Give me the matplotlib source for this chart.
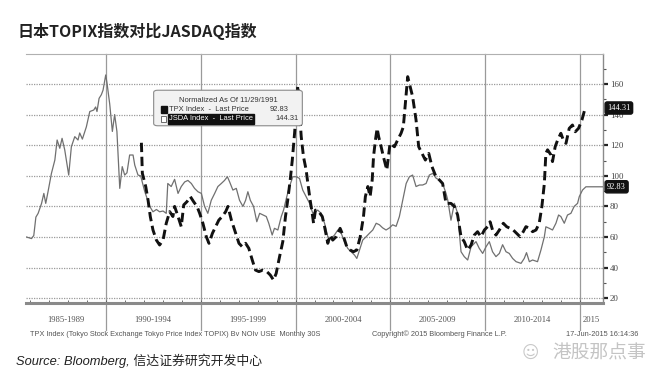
import matplotlib
matplotlib.use("Agg")
import matplotlib.pyplot as plt
from matplotlib.patches import FancyBboxPatch, Rectangle
import numpy as np

plt.rcParams['font.family'] = ['Liberation Sans', 'Noto Sans CJK SC', 'DejaVu Sans']

# ---- data (decimal years, normalized index level) ----
tpx_years = [1985.83, 1986.09, 1986.21, 1986.32, 1986.44, 1986.62, 1986.74, 1986.84, 1986.96,
             1987.14, 1987.32, 1987.44, 1987.58, 1987.70, 1987.84, 1988.05, 1988.19, 1988.37,
             1988.54, 1988.63, 1988.77, 1988.98, 1989.16, 1989.37, 1989.47, 1989.54, 1989.65,
             1989.77, 1989.86, 1990.00, 1990.07, 1990.21, 1990.35, 1990.47, 1990.59, 1990.74,
             1990.87, 1991.00, 1991.12, 1991.26, 1991.44, 1991.53, 1991.70, 1991.84, 1992.05,
             1992.32, 1992.49, 1992.67, 1992.84, 1993.02, 1993.19, 1993.27, 1993.45, 1993.63,
             1993.81, 1993.98, 1994.16, 1994.33, 1994.51, 1994.68, 1994.86, 1995.04, 1995.21,
             1995.38, 1995.56, 1995.74, 1995.91, 1996.09, 1996.26, 1996.41, 1996.53, 1996.70,
             1996.88, 1997.05, 1997.23, 1997.37, 1997.49, 1997.62, 1997.79, 1997.96, 1998.11,
             1998.28, 1998.46, 1998.59, 1998.77, 1998.89, 1999.07, 1999.25, 1999.37, 1999.54,
             1999.68, 1999.86, 2000.04, 2000.21, 2000.38, 2000.56, 2000.74, 2000.91, 2001.17,
             2001.35, 2001.53, 2001.70, 2001.88, 2002.05, 2002.23, 2002.41, 2002.58, 2002.75,
             2002.93, 2003.11, 2003.23, 2003.37, 2003.54, 2003.72, 2003.89, 2004.07, 2004.25,
             2004.42, 2004.59, 2004.77, 2004.95, 2005.12, 2005.30, 2005.47, 2005.65, 2005.83,
             2006.00, 2006.17, 2006.35, 2006.53, 2006.70, 2006.88, 2007.05, 2007.23, 2007.41,
             2007.58, 2007.75, 2007.93, 2008.02, 2008.19, 2008.37, 2008.54, 2008.72, 2008.89,
             2009.07, 2009.25, 2009.51, 2009.68, 2009.86, 2010.04, 2010.21, 2010.38, 2010.56,
             2010.74, 2010.91, 2011.09, 2011.26, 2011.44, 2011.62, 2011.88, 2012.05, 2012.17,
             2012.32, 2012.49, 2012.75, 2012.93, 2013.11, 2013.19, 2013.37, 2013.54, 2013.72,
             2013.86, 2013.98, 2014.16, 2014.33, 2014.51, 2014.68, 2014.86, 2014.95, 2015.12,
             2015.30, 2016.20]
tpx_values = [60, 59, 61, 73, 75.5, 82, 88.5, 82, 89.6,
              101.6, 110.3, 123.4, 118, 124.5, 117, 100.5, 119, 125.6,
              123.4, 128, 124, 132, 142, 143, 145, 142, 150.6,
              153, 156, 165.9, 160.4, 147, 129, 140, 129, 91.8,
              106, 100.5, 102, 113.6, 113.6, 107, 100.5, 100, 90,
              80, 76.5, 78, 76.5, 77, 75.5, 95, 93, 97.7,
              88.5, 93, 96, 97, 95, 91.8, 89.6, 88.5, 80,
              75.5, 84, 88.5, 93, 95, 97, 99.4, 96, 90.7,
              91.8, 84, 80, 84, 89.6, 84, 80, 70, 75.5,
              74.5, 73.4, 69, 61.3, 65.7, 64.6, 73.4, 77.6, 86.4,
              93, 99.4, 99.4, 98.3, 90.7, 86.4, 82, 75.5, 77.6,
              75.5, 69, 60.2, 59, 61.3, 64.6, 62.4, 57, 52.6,
              50.4, 48.2, 46, 51.5, 58, 60.2, 62.4, 64.6, 69,
              68, 66, 64.6, 66, 68, 67, 73.3, 84.2, 95,
              99.4, 100.5, 93, 94, 94, 95, 100.5, 101.6, 98.4,
              97.3, 95, 88.5, 84.2, 71, 82, 75.5, 50.4, 47.2,
              45, 53.7, 57, 52.6, 49.3, 53.7, 57, 50.4, 47.2,
              49.3, 55, 50.4, 49.3, 46, 43.9, 42.8, 46, 49.8,
              43.9, 45, 43.9, 51.5, 60.2, 66.7, 65.7, 64.6, 69,
              74.4, 73.4, 69, 74.4, 75.5, 80, 82, 86.4, 90.7,
              92.83, 92.83]

jsda_years = [1991.88, 1991.93, 1992.11, 1992.23, 1992.35, 1992.49, 1992.67, 1992.84, 1993.02,
              1993.19, 1993.37, 1993.54, 1993.63, 1993.81, 1993.98, 1994.11, 1994.28, 1994.46,
              1994.63, 1994.81, 1994.95, 1995.12, 1995.30, 1995.44, 1995.62, 1995.79, 1995.96,
              1996.14, 1996.32, 1996.44, 1996.62, 1996.79, 1997.02, 1997.19, 1997.37, 1997.54,
              1997.72, 1997.89, 1998.07, 1998.28, 1998.49, 1998.67, 1998.84, 1998.98, 1999.16,
              1999.33, 1999.47, 1999.59, 1999.72, 1999.83, 1999.95, 2000.04, 2000.12, 2000.21,
              2000.30, 2000.42, 2000.56, 2000.65, 2000.77, 2000.88, 2000.95, 2001.05, 2001.23,
              2001.41, 2001.53, 2001.70, 2001.83, 2001.96, 2002.14, 2002.35, 2002.53, 2002.70,
              2002.88, 2003.05, 2003.23, 2003.41, 2003.58, 2003.68, 2003.81, 2003.93, 2004.04,
              2004.11, 2004.21, 2004.30, 2004.38, 2004.51, 2004.63, 2004.81, 2004.98, 2005.21,
              2005.38, 2005.56, 2005.68, 2005.79, 2005.91, 2006.04, 2006.17, 2006.35, 2006.49,
              2006.67, 2006.84, 2007.02, 2007.19, 2007.40, 2007.58, 2007.75, 2007.93, 2008.19,
              2008.37, 2008.54, 2008.72, 2008.89, 2009.07, 2009.25, 2009.42, 2009.59, 2009.77,
              2009.95, 2010.12, 2010.25, 2010.38, 2010.56, 2010.74, 2010.95, 2011.12, 2011.30,
              2011.47, 2011.65, 2011.83, 2012.00, 2012.14, 2012.32, 2012.49, 2012.67, 2012.84,
              2012.98, 2013.11, 2013.19, 2013.28, 2013.46, 2013.54, 2013.68, 2013.81, 2013.98,
              2014.11, 2014.25, 2014.42, 2014.59, 2014.74, 2014.91, 2015.09, 2015.26]
jsda_values = [121.6, 101.6, 92.9, 84.2, 73.3, 64.6, 58, 54.8, 58,
               69, 76.6, 73.4, 80, 73.4, 66.8, 81, 83.1, 86.4,
               83.1, 80, 75.5, 69, 60.2, 55.9, 62.4, 66.8, 71.1,
               73.4, 76.6, 80, 71.1, 64.6, 55.9, 53.7, 55.9, 52.6,
               45, 38.4, 37.4, 38.4, 37.4, 35.2, 31.9, 36.2, 47.2,
               57, 73.3, 84.2, 97.3, 110.3, 127.8, 143, 159, 143,
               125.6, 112.5, 103.8, 95, 84.2, 75.5, 69, 77.6, 76.5,
               73.4, 66.8, 55.9, 61.3, 58, 60.2, 65.7, 60.2, 53.7,
               51.5, 50.4, 51.5, 60.2, 73.3, 86.4, 93, 86.4, 97.3,
               112.5, 123.4, 131, 125.6, 119, 112.5, 103.8, 121.2, 119,
               123.4, 127.8, 132, 147.4, 164.8, 158.3, 151.7, 136.5, 119,
               114.6, 110.3, 114.6, 106, 99.4, 97.3, 95, 82, 82,
               80, 74.4, 60.2, 57, 51.5, 54.8, 61.3, 63.5, 60.2,
               64.6, 66.8, 70, 64.6, 61.3, 64.6, 69, 66.8, 65.7,
               64.6, 62.4, 60.2, 63.5, 66.8, 65.7, 63.5, 64.6, 69,
               80, 95, 114.7, 117, 113.6, 109.3, 119, 123.4, 127.8,
               123.4, 121.2, 131, 133.2, 128.8, 131, 136.5, 144.31]

period_labels = ["1985-1989", "1990-1994", "1995-1999", "2000-2004",
                 "2005-2009", "2010-2014", "2015"]
period_starts = [1985.8, 1990, 1995, 2000, 2005, 2010, 2015]
period_ends = [1990, 1995, 2000, 2005, 2010, 2015, 2016.2]
y_ticks = [20, 40, 60, 80, 100, 120, 140, 160]

tpx_last = 92.83
jsda_last = 144.31

# ---- figure ----
fig = plt.figure(figsize=(6.66, 3.82), dpi=100)
ax = fig.add_axes([26/666, 1 - 303/382, (603 - 26)/666, (303 - 54)/382])
ax.set_xlim(1985.8, 2016.2)
ax.set_ylim(16.9, 179.6)

grid_c = "#9a9a9a"
for yv in y_ticks:
    ax.axhline(yv, color=grid_c, lw=0.9, ls=(0, (1, 1)), zorder=1)
for xv in period_starts[1:]:
    ax.axvline(xv, ymin=-0.11, ymax=1, color=grid_c, lw=0.9, clip_on=False, zorder=1)

ax.plot(tpx_years, tpx_values, color="#707070", lw=0.9, zorder=3)
ax.plot(jsda_years, jsda_values, color="#111111", lw=2.1, ls=(0, (3.2, 1.6)), zorder=4)

# spines / ticks
ax.spines["left"].set_visible(False)
ax.spines["top"].set_color("#b0b0b0")
ax.spines["top"].set_linewidth(0.8)
ax.spines["bottom"].set_color("#8a8a8a")
ax.spines["bottom"].set_linewidth(2.2)
ax.spines["right"].set_color("#8a8a8a")
ax.spines["right"].set_linewidth(1.0)

ax.yaxis.tick_right()
ax.set_yticks(y_ticks)
ax.set_yticks(np.arange(30, 180, 20), minor=True)
ax.tick_params(axis="y", which="major", direction="out", length=3.5, width=1.6,
               color="#222222", labelsize=6.4, labelcolor="#444444", pad=1.5)
ax.tick_params(axis="y", which="minor", direction="out", length=2, width=0.8, color="#555555")
for lbl in ax.get_yticklabels():
    lbl.set_family("Liberation Serif")

ax.set_xticks([])
ax.set_xticks(np.arange(1986, 2016, 1), minor=True)
ax.tick_params(axis="x", which="minor", direction="in", length=2, width=0.6, color="#555555")

# period labels under axis
for lab, a, b in zip(period_labels, period_starts, period_ends):
    ax.text((a + b) / 2, -0.07, lab, transform=ax.get_xaxis_transform(), ha="center",
            va="center", fontsize=6.2, color="#555555", family="Liberation Serif")

# last value tags
for val in [jsda_last, tpx_last]:
    ax.annotate(f"{val:.2f}", xy=(2016.2, val), xytext=(2016.42, val),
                textcoords="data", ha="left", va="center", fontsize=6, color="white",
                family="Liberation Serif", annotation_clip=False, zorder=6,
                bbox=dict(boxstyle="round,pad=0.25", fc="#111111", ec="#111111"))

# legend box
leg = FancyBboxPatch((155/666, 1 - 125/382), 146/666, 34/382, transform=fig.transFigure,
                     boxstyle="round,pad=0.002,rounding_size=0.006", fc="#f2f2f2",
                     ec="#8a8a8a", lw=0.8, zorder=10)
fig.patches.append(leg)
fig.text(228/666, 1 - 100/382, "Normalized As Of 11/29/1991", ha="center", va="center",
         fontsize=5.4, color="#333333", zorder=11)
fig.patches.append(Rectangle((161/666, 1 - 113/382), 6/666, 7/382, transform=fig.transFigure,
                             fc="#111111", ec="#111111", zorder=11))
fig.text(169/666, 1 - 109.5/382, "TPX Index  -  Last Price", ha="left", va="center",
         fontsize=5.4, color="#333333", zorder=11)
fig.text(289/666, 1 - 109.5/382, f"{tpx_last:.2f}", ha="right", va="center",
         fontsize=5.4, color="#333333", zorder=11)
fig.patches.append(Rectangle((161/666, 1 - 122/382), 5/666, 6/382, transform=fig.transFigure,
                             fc="white", ec="#555555", lw=0.6, zorder=11))
fig.text(169/666, 1 - 119/382, "JSDA Index  -  Last Price", ha="left", va="center",
         fontsize=5.4, color="white", zorder=12,
         bbox=dict(boxstyle="square,pad=0.15", fc="#111111", ec="#111111"))
fig.text(299/666, 1 - 119/382, f"{jsda_last:.2f}", ha="right", va="center",
         fontsize=5.4, color="#333333", zorder=11)

# title
fig.text(18/666, 1 - 31/382, "日本TOPIX指数对比JASDAQ指数", ha="left", va="center",
         fontsize=11.5, fontweight="bold", color="#222222",
         family=["Noto Sans CJK SC", "DejaVu Sans"])

# footer
foot_y = 1 - 334/382
fig.text(30/666, foot_y,
         "TPX Index (Tokyo Stock Exchange Tokyo Price Index TOPIX) Bv NOIv USE  Monthly 30S",
         ha="left", va="center", fontsize=5.3, color="#555555")
fig.text(372/666, foot_y, "Copyright\u00a9 2015 Bloomberg Finance L.P.",
         ha="left", va="center", fontsize=5.3, color="#555555")
fig.text(638/666, foot_y, "17-Jun-2015 16:14:36",
         ha="right", va="center", fontsize=5.3, color="#555555")

fig.text(16/666, 1 - 361/382, "Source: Bloomberg, 信达证券研究开发中心", ha="left", va="center",
         fontsize=9.3, style="italic", color="#222222",
         family=["Liberation Sans", "Noto Sans CJK SC"])
fig.text(599/666, 1 - 353/382, "港股那点事", ha="center", va="center", fontsize=13.5,
         color="#c4c4c4", family=["Noto Sans CJK SC"])
fig.text(530/666, 1 - 353/382, "\u263a", ha="center", va="center", fontsize=12,
         color="#c8c8c8", family=["DejaVu Sans"])

fig.savefig("out.png", dpi=100)
